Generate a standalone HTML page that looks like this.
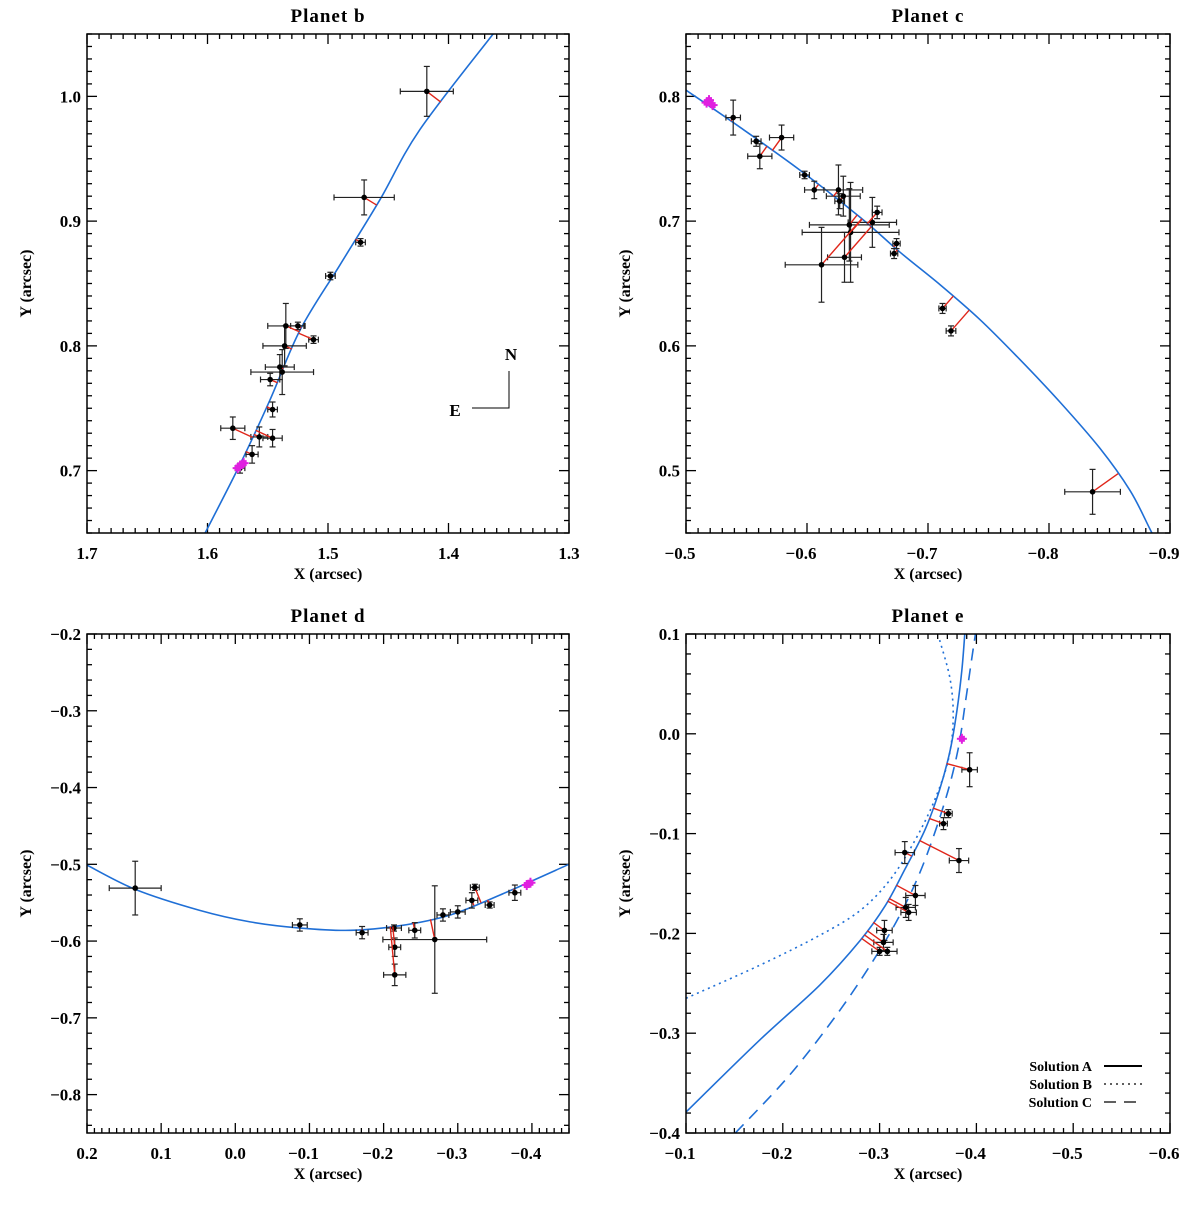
<!DOCTYPE html>
<html><head><meta charset="utf-8"><style>
html,body{margin:0;padding:0;background:#fff}
svg text{font-family:"Liberation Serif",serif;font-weight:bold;fill:#000}
</style></head><body>
<svg id="fig" width="1200" height="1203" viewBox="0 0 1200 1203" xmlns="http://www.w3.org/2000/svg"></svg>
<script>
// ---------- Panel b data ----------
const bX=[1.418,1.470,1.473,1.498,1.512,1.525,1.536,1.538,1.548,1.546,1.546,1.557,1.579,1.563,1.573,1.535,1.540];
const bY=[1.004,0.919,0.883,0.856,0.805,0.816,0.800,0.779,0.773,0.749,0.726,0.727,0.734,0.713,0.702,0.816,0.783];
const bXe=[0.022,0.025,0.004,0.004,0.004,0.006,0.018,0.026,0.008,0.004,0.008,0.007,0.010,0.005,0.004,0.015,0.012];
const bYe=[0.020,0.014,0.003,0.003,0.003,0.003,0.016,0.018,0.005,0.006,0.007,0.008,0.009,0.007,0.004,0.018,0.010];
const bMagX=[1.573,1.570,1.575];
const bMagY=[0.704,0.706,0.702];
const bCurveX=[1.602,1.573,1.548,1.523,1.490,1.457,1.424,1.363];
const bCurveY=[0.650,0.705,0.757,0.813,0.865,0.917,0.973,1.050];
// ---------- Panel c data ----------
const cX=[-0.539,-0.558,-0.579,-0.561,-0.598,-0.606,-0.626,-0.630,-0.627,-0.635,-0.636,-0.631,-0.612,-0.654,-0.658,-0.674,-0.672,-0.712,-0.719,-0.836];
const cY=[0.783,0.764,0.767,0.752,0.737,0.725,0.725,0.720,0.716,0.697,0.691,0.671,0.665,0.699,0.707,0.682,0.674,0.630,0.612,0.483];
const cXe=[0.006,0.004,0.010,0.010,0.004,0.008,0.020,0.014,0.004,0.033,0.040,0.014,0.030,0.020,0.004,0.003,0.003,0.003,0.004,0.023];
const cYe=[0.014,0.004,0.010,0.010,0.003,0.007,0.020,0.016,0.006,0.029,0.040,0.020,0.030,0.020,0.005,0.004,0.004,0.004,0.004,0.018];
const cMagX=[-0.519,-0.522,-0.517];
const cMagY=[0.797,0.793,0.795];
const cCurveX=[-0.500,-0.545,-0.594,-0.644,-0.677,-0.710,-0.743,-0.776,-0.809,-0.842,-0.867,-0.883,-0.890];
const cCurveY=[0.805,0.775,0.741,0.703,0.675,0.649,0.621,0.589,0.555,0.518,0.484,0.454,0.440];
// ---------- Panel d data ----------
const dX=[0.135,-0.087,-0.171,-0.214,-0.215,-0.215,-0.242,-0.269,-0.280,-0.300,-0.319,-0.323,-0.343,-0.377];
const dY=[-0.531,-0.579,-0.589,-0.583,-0.608,-0.644,-0.586,-0.598,-0.566,-0.562,-0.547,-0.530,-0.553,-0.537];
const dXe=[0.035,0.010,0.008,0.010,0.008,0.015,0.008,0.070,0.008,0.010,0.008,0.006,0.006,0.008];
const dYe=[0.035,0.008,0.008,0.004,0.012,0.014,0.010,0.070,0.008,0.008,0.010,0.004,0.004,0.010];
const dMagX=[-0.393,-0.398];
const dMagY=[-0.527,-0.524];
const dCurveX=[0.200,0.134,0.048,-0.020,-0.087,-0.155,-0.222,-0.290,-0.357,-0.450];
const dCurveY=[-0.501,-0.533,-0.560,-0.575,-0.583,-0.586,-0.580,-0.566,-0.540,-0.500];
// ---------- Panel e data ----------
const eX=[-0.393,-0.371,-0.366,-0.326,-0.382,-0.327,-0.330,-0.337,-0.305,-0.304,-0.308,-0.300];
const eY=[-0.036,-0.080,-0.090,-0.119,-0.127,-0.174,-0.179,-0.162,-0.197,-0.209,-0.218,-0.218];
const eXe=[0.008,0.004,0.004,0.010,0.010,0.010,0.008,0.010,0.008,0.010,0.010,0.008];
const eYe=[0.017,0.004,0.006,0.011,0.012,0.010,0.008,0.010,0.010,0.008,0.004,0.004];
const eMagX=[-0.385];
const eMagY=[-0.005];
const eAX=[-0.100,-0.176,-0.238,-0.280,-0.306,-0.326,-0.347,-0.362,-0.373,-0.380,-0.385,-0.388];
const eAY=[-0.379,-0.307,-0.252,-0.207,-0.172,-0.136,-0.096,-0.056,-0.016,0.024,0.064,0.100];
const eBX=[-0.100,-0.176,-0.238,-0.280,-0.311,-0.337,-0.357,-0.371,-0.376,-0.373,-0.362];
const eBY=[-0.265,-0.232,-0.202,-0.177,-0.146,-0.106,-0.066,-0.026,0.014,0.054,0.094];
const eCX=[-0.151,-0.207,-0.259,-0.300,-0.326,-0.347,-0.368,-0.381,-0.389,-0.395,-0.399];
const eCY=[-0.400,-0.342,-0.277,-0.217,-0.172,-0.126,-0.066,-0.016,0.034,0.074,0.100];
const legendLabels=["Solution A","Solution B","Solution C"];

const NS="http://www.w3.org/2000/svg";
const svg=document.getElementById('fig');
function mk(tag,attrs,parent){const e=document.createElementNS(NS,tag);for(const k in attrs)e.setAttribute(k,attrs[k]);(parent||svg).appendChild(e);return e;}

function smoothPath(pts){
  let d='M'+pts[0][0]+','+pts[0][1];
  for(let i=0;i<pts.length-1;i++){
    const p0=pts[i-1]||pts[i],p1=pts[i],p2=pts[i+1],p3=pts[i+2]||p2;
    const c1=[p1[0]+(p2[0]-p0[0])/6,p1[1]+(p2[1]-p0[1])/6];
    const c2=[p2[0]-(p3[0]-p1[0])/6,p2[1]-(p3[1]-p1[1])/6];
    d+=' C'+c1.join(',')+' '+c2.join(',')+' '+p2.join(',');
  }
  return d;
}

function panel(cfg){
  const g=mk('g',{});
  
  
  const L=cfg.box[0],T=cfg.box[1],R=cfg.box[2],B=cfg.box[3];
  const sx=v=>L+(v-cfg.xr[0])/(cfg.xr[1]-cfg.xr[0])*(R-L);
  const sy=v=>T+(cfg.yr[1]-v)/(cfg.yr[1]-cfg.yr[0])*(B-T);
  const tg=mk('g',{stroke:'#000','stroke-width':1.3},g);
  
  
  const xlo=Math.min(cfg.xr[0],cfg.xr[1]),xhi=Math.max(cfg.xr[0],cfg.xr[1]);
  for(let i=Math.ceil(xlo/cfg.xmin-1e-6);i*cfg.xmin<=xhi+1e-9;i++){
    const v=i*cfg.xmin;const maj=Math.abs(v/cfg.xmaj-Math.round(v/cfg.xmaj))<1e-6;const len=maj?10:5;const x=sx(v);
    mk('line',{x1:x,y1:B,x2:x,y2:B-len},tg);mk('line',{x1:x,y1:T,x2:x,y2:T+len},tg);
  }
  for(let i=Math.ceil(cfg.yr[0]/cfg.ymin-1e-6);i*cfg.ymin<=cfg.yr[1]+1e-9;i++){
    const v=i*cfg.ymin;const maj=Math.abs(v/cfg.ymaj-Math.round(v/cfg.ymaj))<1e-6;const len=maj?10:5;const y=sy(v);
    mk('line',{x1:L,y1:y,x2:L+len,y2:y},tg);mk('line',{x1:R,y1:y,x2:R-len,y2:y},tg);
  }
  cfg.xticks.forEach(v=>{const t=mk('text',{x:sx(v)-(v<0?6:0),y:B+26,'text-anchor':'middle','font-size':17},g);t.textContent=(v<0?'\u2212':'')+Math.abs(v).toFixed(1);
    });
  cfg.yticks.forEach(v=>{const t=mk('text',{x:L-6,y:sy(v)+6,'text-anchor':'end','font-size':17},g);t.textContent=(v<0?'\u2212':'')+Math.abs(v).toFixed(1);
    });
  const tt=mk('text',{x:(L+R)/2,y:T-12,'text-anchor':'middle','font-size':19,'font-weight':'normal','letter-spacing':1},g);tt.textContent=cfg.title;
  
  const xt=mk('text',{x:(L+R)/2,y:B+46,'text-anchor':'middle','font-size':16},g);xt.textContent='X (arcsec)';
  
  const yt=mk('text',{x:0,y:0,'text-anchor':'middle','font-size':16,transform:`translate(${L-56},${(T+B)/2}) rotate(-90)`},g);yt.textContent='Y (arcsec)';
  
  const cid='clip-'+cfg.name;
  const cp=mk('clipPath',{id:cid},g);mk('rect',{x:L,y:T,width:R-L,height:B-T},cp);
  const pg=mk('g',{'clip-path':`url(#${cid})`},g);
  const curvesPx=[];
  cfg.curves.forEach((c,ci)=>{
    const pts=c.x.map((v,i)=>[sx(v),sy(c.y[i])]);
    if(ci===0)curvesPx.push(pts);
    const p=mk('path',{d:smoothPath(pts),fill:'none',stroke:'#1f6fd6','stroke-width':c.w||1.6,'stroke-dasharray':c.dash||'none'},pg);
    
  });
  const poly=curvesPx[0];
  function nearest(px,py){let best=null,bd=1e9;for(let i=0;i<poly.length-1;i++){const [ax,ay]=poly[i],[bx,by]=poly[i+1];const dx=bx-ax,dy=by-ay;let t=((px-ax)*dx+(py-ay)*dy)/(dx*dx+dy*dy);t=Math.max(0,Math.min(1,t));const qx=ax+t*dx,qy=ay+t*dy;const d=(qx-px)**2+(qy-py)**2;if(d<bd){bd=d;best=[qx,qy];}}return best;}
  cfg.px.forEach((v,i)=>{
    const x=sx(v),y=sy(cfg.py[i]);const ex=Math.abs(sx(v+cfg.pxe[i])-x),ey=Math.abs(sy(cfg.py[i]+cfg.pye[i])-y);
    const eb=mk('g',{stroke:'#222','stroke-width':1.2},pg);
    
    mk('line',{x1:x-ex,y1:y,x2:x+ex,y2:y},eb);mk('line',{x1:x,y1:y-ey,x2:x,y2:y+ey},eb);
    mk('line',{x1:x-ex,y1:y-3,x2:x-ex,y2:y+3},eb);mk('line',{x1:x+ex,y1:y-3,x2:x+ex,y2:y+3},eb);
    mk('line',{x1:x-3,y1:y-ey,x2:x+3,y2:y-ey},eb);mk('line',{x1:x-3,y1:y+ey,x2:x+3,y2:y+ey},eb);
  });
  cfg.px.forEach((v,i)=>{
    const x=sx(v),y=sy(cfg.py[i]);const q=nearest(x,y);
    const rl=mk('line',{x1:x,y1:y,x2:q[0],y2:q[1],stroke:'#e0261a','stroke-width':1.4},pg);
    
    const c=mk('circle',{cx:x,cy:y,r:2.8,fill:'#000'},pg);
    
  });
  cfg.mx.forEach((v,i)=>{
    const x=sx(v),y=sy(cfg.my[i]);
    const m=mk('g',{stroke:'#e020e0','stroke-width':2},pg);
    
    mk('line',{x1:x-5,y1:y,x2:x+5,y2:y},m);mk('line',{x1:x,y1:y-5,x2:x,y2:y+5},m);
    mk('rect',{x:x-3,y:y-3,width:6,height:6,fill:'#e020e0',stroke:'none'},m);
  });
  const fr=mk('rect',{x:L,y:T,width:R-L,height:B-T,fill:'none',stroke:'#000','stroke-width':1.5},g);
  
  return {g,sx,sy};
}

panel({name:'panel-b',title:'Planet b',box:[87,34,569,533],xr:[1.7,1.3],yr:[0.65,1.05],xmaj:0.1,xmin:0.01,ymaj:0.1,ymin:0.01,
  xticks:[1.7,1.6,1.5,1.4,1.3],yticks:[0.7,0.8,0.9,1.0],curves:[{x:bCurveX,y:bCurveY}],px:bX,py:bY,pxe:bXe,pye:bYe,mx:bMagX,my:bMagY});
panel({name:'panel-c',title:'Planet c',box:[686,34,1170,533],xr:[-0.5,-0.9],yr:[0.45,0.85],xmaj:0.1,xmin:0.01,ymaj:0.1,ymin:0.01,
  xticks:[-0.5,-0.6,-0.7,-0.8,-0.9],yticks:[0.5,0.6,0.7,0.8],curves:[{x:cCurveX,y:cCurveY}],px:cX,py:cY,pxe:cXe,pye:cYe,mx:cMagX,my:cMagY});
panel({name:'panel-d',title:'Planet d',box:[87,634,569,1133],xr:[0.2,-0.45],yr:[-0.85,-0.2],xmaj:0.1,xmin:0.01,ymaj:0.1,ymin:0.02,
  xticks:[0.2,0.1,0.0,-0.1,-0.2,-0.3,-0.4],yticks:[-0.2,-0.3,-0.4,-0.5,-0.6,-0.7,-0.8],curves:[{x:dCurveX,y:dCurveY}],px:dX,py:dY,pxe:dXe,pye:dYe,mx:dMagX,my:dMagY});
panel({name:'panel-e',title:'Planet e',box:[686,634,1170,1133],xr:[-0.1,-0.6],yr:[-0.4,0.1],xmaj:0.1,xmin:0.01,ymaj:0.1,ymin:0.02,
  xticks:[-0.1,-0.2,-0.3,-0.4,-0.5,-0.6],yticks:[0.1,0.0,-0.1,-0.2,-0.3,-0.4],
  curves:[{x:eAX,y:eAY},{x:eBX,y:eBY,dash:'2,4'},{x:eCX,y:eCY,dash:'12,8'}],px:eX,py:eY,pxe:eXe,pye:eYe,mx:eMagX,my:eMagY});

const comp=mk('g',{});


mk('polyline',{points:'509,371 509,408 472,408',fill:'none',stroke:'#000','stroke-width':1},comp);
const tN=mk('text',{x:511,y:360,'text-anchor':'middle','font-size':17,'font-weight':'normal'},comp);tN.textContent='N';
const tE=mk('text',{x:455,y:416,'text-anchor':'middle','font-size':17,'font-weight':'normal'},comp);tE.textContent='E';

const leg=mk('g',{});


const dashes=['none','2,4','12,8'];
legendLabels.forEach((lab,i)=>{
  const y=1066+i*18;
  const t=mk('text',{x:1092,y:y+5,'text-anchor':'end','font-size':14},leg);t.textContent=lab;
  
  mk('line',{x1:1104,y1:y,x2:1142,y2:y,stroke:'#000','stroke-width':i===0?2:1.3,'stroke-dasharray':dashes[i]},leg);
});
</script>
</body></html>
